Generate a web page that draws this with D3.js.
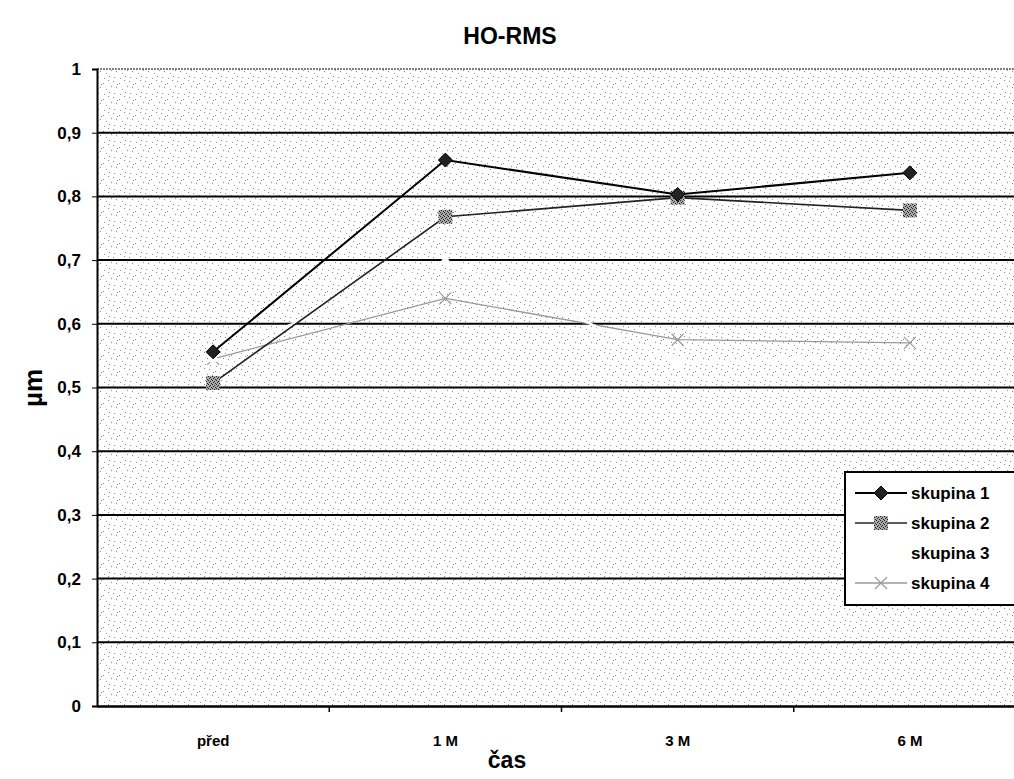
<!DOCTYPE html>
<html><head><meta charset="utf-8">
<script src="https://cdn.jsdelivr.net/npm/d3@7"></script>
<style>body{margin:0;background:#fff}svg{display:block}text{font-family:Arial,"Liberation Sans",sans-serif;font-weight:bold}</style>
</head><body>
<svg id="c" width="1014" height="779"></svg>
<script>
const categories = ["před", "1 M", "3 M", "6 M"];
const skupina1 = [0.556, 0.857, 0.803, 0.837];
const skupina2 = [0.507, 0.768, 0.798, 0.778];
const skupina3 = [0.548, 0.700, 0.540, 0.550];
const skupina4 = [0.545, 0.640, 0.575, 0.570];
const seriesNames = ["skupina 1", "skupina 2", "skupina 3", "skupina 4"];
const yTicks = [0, 0.1, 0.2, 0.3, 0.4, 0.5, 0.6, 0.7, 0.8, 0.9, 1];

const svg = d3.select("#c");
const m = {l: 97, t: 69, r: 1026, b: 706};
const x = d3.scaleBand().domain(categories).range([m.l, m.r]);
const y = d3.scaleLinear().domain([0, 1]).range([m.b, m.t]);

// stipple pattern
const defs = svg.append("defs");
const pat = defs.append("pattern").attr("id", "stip").attr("patternUnits", "userSpaceOnUse").attr("width", 16).attr("height", 16);
pat.append("rect").attr("width", 16).attr("height", 16).attr("fill", "#fff");
[[1,1],[7,3],[12,0],[4,7],[10,9],[15,6],[2,13],[8,14],[13,12],[5,4]].forEach(([a,b]) =>
  pat.append("rect").attr("x", a).attr("y", b).attr("width", 1).attr("height", 1).attr("fill", "#888"));
const pat2 = defs.append("pattern").attr("id", "mk").attr("patternUnits", "userSpaceOnUse").attr("width", 4).attr("height", 4);
pat2.append("rect").attr("width", 4).attr("height", 4).attr("fill", "#aaa");
[[0,0],[2,1],[1,2],[3,3]].forEach(([a,b]) => pat2.append("rect").attr("x", a).attr("y", b).attr("width", 1).attr("height", 1).attr("fill", "#222"));

svg.append("rect").attr("x", m.l).attr("y", m.t).attr("width", m.r - m.l).attr("height", m.b - m.t).attr("fill", "url(#stip)");

// gridlines
svg.append("g").selectAll("line").data(yTicks.filter(d => d > 0)).join("line")
  .attr("x1", m.l).attr("x2", 1014).attr("y1", d => y(d)).attr("y2", d => y(d))
  .attr("stroke", "#000").attr("stroke-width", d => d === 1 ? 1 : 2).attr("stroke-dasharray", d => d === 1 ? "2,1" : null);

// axes
const yAxis = d3.axisLeft(y).tickValues(yTicks).tickSize(5).tickFormat(d => d3.format(".1f")(d).replace(".", ",").replace(/^0,0$/, "0").replace(/^1,0$/, "1"));
const gy = svg.append("g").attr("transform", `translate(${m.l},0)`).call(yAxis);
gy.select(".domain").attr("stroke-width", 2);
gy.selectAll("text").attr("font-size", 17).attr("font-weight", "bold").attr("font-family", "Arial, Liberation Sans, sans-serif").attr("x", -16);

const xAxis = d3.axisBottom(x).tickSize(0).tickPadding(29);
const gx = svg.append("g").attr("transform", `translate(0,${m.b})`).call(xAxis);
gx.select(".domain").attr("stroke-width", 2.5);
gx.selectAll("text").attr("font-size", 15).attr("font-weight", "bold").attr("font-family", "Arial, Liberation Sans, sans-serif");
svg.append("g").selectAll("line").data(categories.slice(1)).join("line")
  .attr("x1", d => x(d)).attr("x2", d => x(d)).attr("y1", m.b).attr("y2", m.b + 6).attr("stroke", "#000").attr("stroke-width", 1.5);

// series
const line = d3.line().x((d, i) => x(categories[i]) + x.bandwidth() / 2).y(d => y(d));
const cx = i => x(categories[i]) + x.bandwidth() / 2;
const styles = [
  {data: skupina1, stroke: "#000", w: 2},
  {data: skupina2, stroke: "#222", w: 1.6},
  {data: skupina3, stroke: "#fff", w: 2},
  {data: skupina4, stroke: "#999", w: 1.3}
];
function marker(g, k, px, py) {
  if (k === 0) g.append("path").attr("d", `M${px},${py-7}L${px+7},${py}L${px},${py+7}L${px-7},${py}Z`).attr("fill", "#222").attr("stroke", "#000");
  else if (k === 1) g.append("rect").attr("x", px - 7).attr("y", py - 7).attr("width", 14).attr("height", 14).attr("fill", "url(#mk)");
  else if (k === 2) g.append("path").attr("d", `M${px},${py-7}L${px+6},${py+5}L${px-6},${py+5}Z`).attr("fill", "#fff");
  else g.append("path").attr("d", `M${px-6},${py-6}L${px+6},${py+6}M${px+6},${py-6}L${px-6},${py+6}`).attr("stroke", "#999").attr("stroke-width", 1.2);
}
[3, 2, 1, 0].forEach(k => {
  const s = styles[k];
  const g = svg.append("g");
  g.append("path").attr("d", line(s.data)).attr("fill", "none").attr("stroke", s.stroke).attr("stroke-width", s.w);
  s.data.forEach((v, i) => marker(g, k, cx(i), y(v)));
});

// legend
const lg = svg.append("g");
lg.append("rect").attr("x", 845).attr("y", 472).attr("width", 180).attr("height", 133).attr("fill", "#fff").attr("stroke", "#000").attr("stroke-width", 2);
seriesNames.forEach((n, k) => {
  const yy = 493 + k * 30;
  lg.append("line").attr("x1", 855).attr("x2", 907).attr("y1", yy).attr("y2", yy).attr("stroke", styles[k].stroke).attr("stroke-width", styles[k].w);
  marker(lg, k, 881, yy);
  lg.append("text").attr("x", 911).attr("y", yy + 6).attr("font-size", 17).text(n);
});

// titles
svg.append("text").attr("x", 510).attr("y", 44).attr("text-anchor", "middle").attr("font-size", 23).text("HO-RMS");
svg.append("text").attr("x", 507).attr("y", 768).attr("text-anchor", "middle").attr("font-size", 23).text("čas");
svg.append("text").attr("transform", "translate(42,388) rotate(-90)").attr("text-anchor", "middle").attr("font-size", 26).text("µm");
</script>
</body></html>
